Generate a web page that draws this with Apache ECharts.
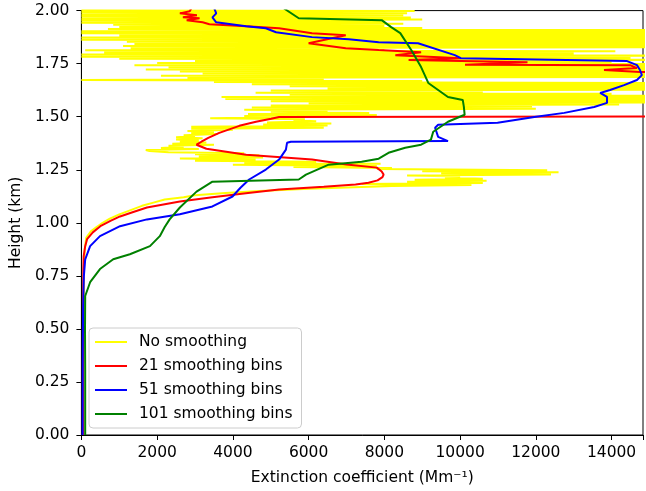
<!DOCTYPE html>
<html><head><meta charset="utf-8">
<script src="https://cdn.jsdelivr.net/npm/echarts@6/dist/echarts.min.js"></script>
<style>html,body{margin:0;padding:0;background:#fff}#c{width:646px;height:491px}</style>
</head><body><div id="c"></div>
<script>
const seriesNames = ['No smoothing', '21 smoothing bins', '51 smoothing bins', '101 smoothing bins'];
const seriesColors = ['#ffff00', '#ff0000', '#0000ff', '#008000'];

const noSmoothHeight = [0, 0.2, 0.4, 0.6, 0.8, 0.88, 0.93, 0.96, 0.98, 1.0, 1.02, 1.04, 1.06, 1.08, 1.095, 1.11, 1.12, 1.13, 1.14, 1.15, 1.16, 1.168, 1.174,
  1.178, 1.183, 1.188, 1.193, 1.198, 1.203, 1.208, 1.213, 1.218, 1.223, 1.228, 1.233, 1.238, 1.243, 1.248, 1.253, 1.258, 1.263, 1.268, 1.273, 1.278, 1.283, 1.288, 1.293, 1.298,
  1.303, 1.308, 1.313, 1.318, 1.323, 1.328, 1.333, 1.338, 1.343, 1.348, 1.353, 1.358, 1.363, 1.368, 1.373, 1.378, 1.383, 1.388, 1.393, 1.398,
  1.403, 1.408, 1.413, 1.418, 1.423, 1.428, 1.433, 1.438, 1.443, 1.448, 1.453, 1.458, 1.463, 1.468, 1.473, 1.478, 1.483, 1.488, 1.493, 1.498,
  1.503, 1.508, 1.513, 1.518, 1.523, 1.528, 1.533, 1.538, 1.543, 1.548, 1.553, 1.558, 1.563, 1.568, 1.573, 1.578, 1.583, 1.588, 1.593, 1.598,
  1.603, 1.608, 1.613, 1.618, 1.623, 1.628, 1.633, 1.638, 1.643, 1.648, 1.653, 1.658, 1.663, 1.668, 1.673, 1.678, 1.683, 1.688, 1.693, 1.698,
  1.703, 1.708, 1.713, 1.718, 1.723, 1.728, 1.733, 1.738, 1.743, 1.748, 1.753, 1.758, 1.763, 1.768, 1.773, 1.778, 1.783, 1.788, 1.793, 1.798,
  1.803, 1.808, 1.813, 1.818, 1.823, 1.828, 1.833, 1.838, 1.843, 1.848, 1.853, 1.858, 1.863, 1.868, 1.873, 1.878, 1.883, 1.888, 1.893, 1.898,
  1.903, 1.908, 1.913, 1.918, 1.923, 1.928, 1.933, 1.938, 1.943, 1.948, 1.953, 1.958, 1.963, 1.968, 1.973, 1.978, 1.983, 1.988, 1.993, 1.998, 2.003];
const noSmoothValue = [60, 55, 55, 60, 70, 90, 130, 250, 400, 560, 750, 1000, 1300, 1600, 1900, 2200, 2700, 3000, 3800, 4700, 6000, 7200, 8200,
  10300, 7400, 10600, 8600, 10700, 8800, 10600, 9600, 10000, 8600, 12400, 9500, 12600, 9000, 12300, 7800, 8200, 5600, 7800, 4000, 7900, 4300, 6200, 3000, 4600,
  2600, 4800, 3100, 4700, 3000, 4300, 2300, 1800, 1700, 3100, 2100, 2700, 2300, 3500, 2400, 3300, 2600, 3100, 2500, 3200,
  2500, 3000, 2700, 3600, 2900, 3500, 2800, 4000, 2900, 6400, 2900, 6500, 4800, 6600, 4900, 6200, 5600, 5900, 3400, 5800,
  4300, 7800, 4400, 7600, 5000, 6500, 4300, 12000, 4500, 11900, 5000, 14200, 6000, 16000, 5000, 16000, 3800, 15500, 3700, 16000,
  5500, 14000, 4600, 10600, 5000, 16000, 6500, 16000, 5500, 15800, 4500, 16000, 3500, 9000, 0, 6400, 2800, 16000, 2100, 16000,
  3200, 16000, 2600, 16000, 1700, 15500, 2300, 16000, 1400, 16000, 2000, 14000, 3000, 16000, 1000, 14500, 0, 16000, 0, 13000,
  600, 14100, 100, 8000, 1300, 16000, 1100, 16000, 1400, 16000, 1200, 16000, 0, 16000, 0, 16000, 1000, 16000, 0, 16000,
  0, 16000, 700, 9000, 1000, 8000, 840, 8500, 0, 8000, 0, 9000, 0, 8700, 0, 8500, 0, 8600, 0, 8800, 0];

const bins21Height = [0, 0.3, 0.6, 0.78, 0.843, 0.89, 0.923, 0.955, 0.984, 1.01, 1.03, 1.05, 1.072, 1.10, 1.12, 1.14, 1.157, 1.17, 1.18, 1.189, 1.20, 1.215, 1.227, 1.242, 1.26, 1.275, 1.298, 1.321, 1.349, 1.368, 1.382, 1.40, 1.424, 1.457, 1.476, 1.49, 1.499, 1.502, 1.60, 1.709,
  1.711, 1.720, 1.729, 1.743, 1.745, 1.757, 1.767, 1.776, 1.790, 1.804, 1.814, 1.823, 1.846, 1.884, 1.893, 1.917, 1.926, 1.936, 1.945, 1.955, 1.964, 1.969, 1.978, 1.987, 1.997, 2.01];
const bins21Value = [40, 40, 45, 50, 60, 100, 150, 300, 500, 780, 1020, 1350, 1730, 2600, 3460, 4400, 5220, 6400, 7240, 7580, 7820, 7950, 7980, 7930, 7800, 7000, 6090, 4350, 3300, 3040, 3170, 3350, 3640, 4170, 4610, 5010, 5220, 20000, 20000, 20000,
  14750, 13800, 14670, 14490, 10130, 11780, 8640, 10020, 8290, 8970, 7850, 6980, 6000, 6980, 6090, 5220, 4350, 3380, 3200, 2780, 3120, 2680, 3050, 2600, 2860, 2900];

const bins51Height = [0, 0.4, 0.6, 0.75, 0.828, 0.89, 0.937, 0.984, 1.016, 1.04, 1.077, 1.124, 1.165, 1.204, 1.251, 1.298, 1.345, 1.377, 1.382, 1.385, 1.405, 1.448, 1.462, 1.466, 1.471, 1.499, 1.518, 1.546, 1.565, 1.593, 1.612, 1.626, 1.649, 1.673, 1.696, 1.72, 1.743, 1.762, 1.776, 1.79, 1.846, 1.851, 1.865, 1.875, 1.898, 1.917, 1.926, 1.945, 1.968, 1.987, 2.01];
const bins51Value = [30, 35, 45, 65, 100, 230, 490, 1020, 1730, 2600, 3460, 3990, 4200, 4430, 4870, 5220, 5400, 5430, 5530, 9680, 9420, 9340, 9420, 9430, 10990, 11960, 12750, 13540, 13880, 13880, 13700, 13960, 14330, 14670, 14800, 14750, 14670, 14410, 10020, 9860, 8890, 7850, 7060, 6090, 5140, 4870, 4350, 3560, 3460, 3560, 3510];

const bins101Height = [0, 0.3, 0.5, 0.655, 0.72, 0.782, 0.828, 0.852, 0.89, 0.937, 0.98, 1.016, 1.072, 1.147, 1.194, 1.204, 1.227, 1.274, 1.288, 1.302, 1.33, 1.354, 1.368, 1.392, 1.429, 1.476, 1.509, 1.546, 1.579, 1.593, 1.659, 1.734, 1.814, 1.894, 1.922, 1.955, 1.964, 2.01];
const bins101Value = [100, 100, 95, 100, 230, 490, 840, 1280, 1810, 2070, 2200, 2330, 2600, 3040, 3460, 5740, 5930, 6530, 7400, 7850, 8110, 8550, 8970, 9230, 9290, 9680, 10120, 10100, 10070, 9680, 9160, 8970, 8710, 8420, 8180, 7930, 5740, 5350];

const xTickStep = 2000;
const yTickStep = 0.25;

function pairs(vals, hs) { return vals.map((v, i) => [v, hs[i]]); }
const FONT = 'DejaVu Sans';
const FS = 15.5;
const chart = echarts.init(document.getElementById('c'), null, {renderer: 'canvas'});
const seriesData = [pairs(noSmoothValue, noSmoothHeight), pairs(bins21Value, bins21Height), pairs(bins51Value, bins51Height), pairs(bins101Value, bins101Height)];
chart.setOption({
  animation: false,
  grid: {left: 81, right: 0, top: 10.6, bottom: 54.3, show: true, borderColor: '#000', borderWidth: 1, backgroundColor: 'transparent'},
  xAxis: {
    type: 'value', min: 0, max: 14830, interval: xTickStep,
    name: 'Extinction coefficient (Mm⁻¹)', nameLocation: 'middle', nameGap: 35,
    nameTextStyle: {fontFamily: FONT, fontSize: FS, color: '#000'},
    axisLine: {show: true, lineStyle: {color: '#000', width: 1}},
    axisTick: {show: true, length: 5, lineStyle: {color: '#000'}},
    axisLabel: {fontFamily: FONT, fontSize: FS, color: '#000', margin: 10,
      formatter: v => (Math.abs(v % xTickStep) < 1e-6 ? String(v) : '')},
    splitLine: {show: false}
  },
  yAxis: {
    type: 'value', min: 0, max: 2, interval: yTickStep,
    name: 'Height (km)', nameLocation: 'middle', nameGap: 56,
    nameTextStyle: {fontFamily: FONT, fontSize: FS, color: '#000'},
    axisLine: {show: true, lineStyle: {color: '#000', width: 1}},
    axisTick: {show: true, length: 5, lineStyle: {color: '#000'}},
    axisLabel: {fontFamily: FONT, fontSize: FS, color: '#000', margin: 12, formatter: v => v.toFixed(2)},
    splitLine: {show: false}
  },
  legend: {
    orient: 'vertical', left: 89, top: 328, icon: 'rect', itemWidth: 32, itemHeight: 2, itemGap: 6,
    padding: [5, 9, 5, 6], backgroundColor: 'rgba(255,255,255,0.8)', borderColor: '#cccccc', borderWidth: 1, borderRadius: 4,
    textStyle: {fontFamily: FONT, fontSize: FS, color: '#000', lineHeight: 18, padding: [0, 0, 0, 7]},
    data: seriesNames
  },
  series: seriesNames.map((n, i) => ({
    name: n, type: 'line', data: seriesData[i], showSymbol: false, symbol: 'none', clip: true,
    lineStyle: {width: 2, color: seriesColors[i]}, itemStyle: {color: seriesColors[i]}
  }))
});
</script></body></html>
